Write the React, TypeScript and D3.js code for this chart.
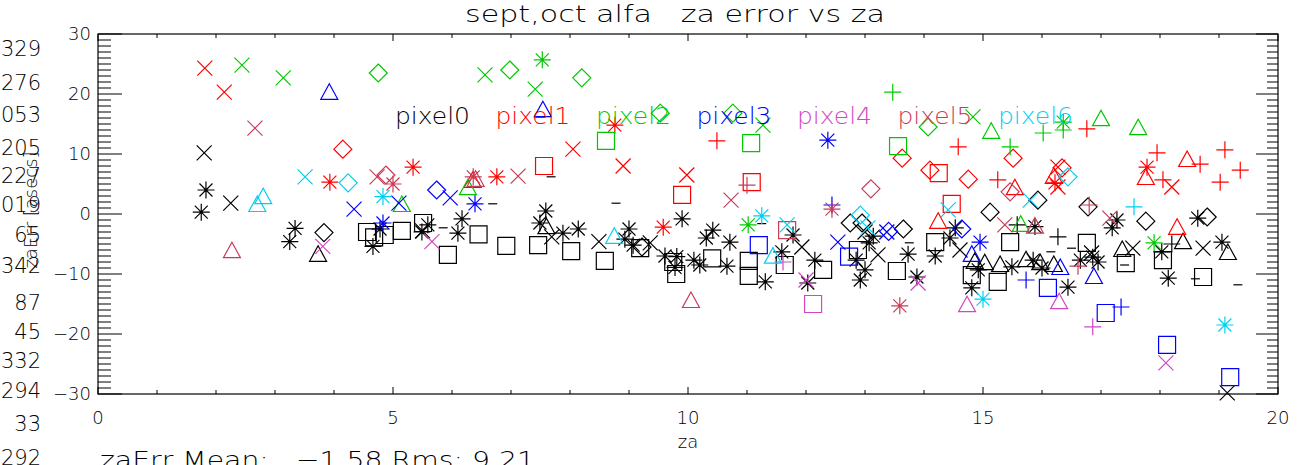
import React from "react";
import * as d3 from "d3";

// ---- data: [za, zaErr, symbol]  (x=X, p=plus, a=asterisk, d=diamond, t=triangle, s=square, m=dash)
type Pt = [number, number, string];

const seriesNames = ["pixel0", "pixel1", "pixel2", "pixel3", "pixel4", "pixel5", "pixel6"];
const seriesColors = ["#000000", "#ff0000", "#00c800", "#0000ff", "#d048c0", "#c83c58", "#00d0f0"];

const pixel0: Pt[] = [
  [1.83, 4.0, "a"], [1.75, 0.3, "a"], [3.34, -2.4, "a"], [3.25, -4.6, "a"], [4.66, -5.4, "a"], [4.78, -2.5, "a"],
  [5.59, -1.8, "a"], [5.49, -3.0, "a"], [6.17, -0.8, "a"], [6.1, -3.2, "a"], [7.59, 0.5, "a"], [7.49, -1.5, "a"], [7.88, -3.2, "a"],
  [8.14, -2.5, "a"], [9.0, -2.5, "a"], [8.93, -4.2, "a"], [9.07, -5.2, "a"], [9.9, -0.8, "a"], [9.61, -7.0, "a"],
  [9.81, -7.1, "a"], [9.78, -8.9, "a"], [10.1, -7.7, "a"], [10.2, -8.5, "a"], [10.31, -4.0, "a"], [10.42, -2.7, "a"],
  [10.66, -8.7, "a"], [10.71, -4.7, "a"], [11.31, -11.3, "a"], [11.59, -6.3, "a"], [11.78, -3.5, "a"], [12.15, -7.7, "a"],
  [12.03, -11.5, "a"], [12.85, -7.7, "a"], [13.0, -9.3, "a"], [12.92, -11.0, "a"], [13.07, -4.8, "a"], [13.14, -3.7, "a"],
  [13.73, -6.7, "a"], [14.19, -7.0, "a"], [13.88, -10.5, "a"], [14.53, -2.3, "a"], [14.44, -4.0, "a"], [14.92, -9.3, "a"],
  [14.81, -12.3, "a"], [15.49, -8.8, "a"], [15.88, -2.1, "a"], [15.85, -7.7, "a"], [16.0, -9.0, "a"], [16.44, -12.2, "a"],
  [16.65, -7.7, "a"], [16.86, -7.2, "a"], [16.95, -8.0, "a"], [17.27, -1.0, "a"], [17.19, -2.3, "a"], [18.03, -6.3, "a"],
  [18.14, -10.7, "a"], [18.64, -0.7, "a"], [19.05, -4.7, "a"],
  [1.8, 10.2, "x"], [2.25, 1.8, "x"], [7.69, -3.8, "x"], [8.49, -4.6, "x"], [9.36, -4.8, "x"],
  [11.93, -5.5, "x"], [13.22, -6.8, "x"], [14.61, -6.0, "x"], [16.84, -6.5, "x"], [17.54, -5.7, "x"], [18.73, -5.7, "x"],
  [19.14, -29.8, "x"], [5.5, -2.8, "x"], [13.0, -3.0, "x"],
  [3.83, -3.1, "d"], [9.22, -5.5, "d"], [12.75, -1.5, "d"], [12.95, -1.5, "d"], [13.65, -2.5, "d"], [15.12, 0.3, "d"],
  [15.93, 2.3, "d"], [16.78, 1.2, "d"], [17.76, -1.2, "d"], [18.8, -0.5, "d"],
  [3.73, -6.8, "t"], [14.86, -8.0, "t"], [15.03, -8.2, "t"], [15.29, -8.5, "t"], [15.73, -7.7, "t"], [15.97, -8.2, "t"],
  [16.2, -8.5, "t"], [17.36, -6.0, "t"], [18.39, -4.7, "t"], [19.15, -6.5, "t"], [7.6, -2.2, "t"],
  [4.56, -3.0, "s"], [4.68, -3.9, "s"], [4.86, -3.5, "s"], [5.15, -2.8, "s"], [5.51, -1.5, "s"], [5.93, -6.8, "s"],
  [6.45, -3.4, "s"], [6.92, -5.3, "s"], [7.46, -5.2, "s"], [8.02, -6.2, "s"], [8.59, -7.8, "s"], [9.19, -5.7, "s"],
  [9.75, -8.0, "s"], [9.8, -10.0, "s"], [10.41, -7.4, "s"], [11.03, -7.8, "s"], [11.03, -10.3, "s"], [11.64, -8.5, "s"],
  [12.29, -9.3, "s"], [12.88, -6.0, "s"], [13.54, -9.5, "s"], [14.19, -4.7, "s"], [14.81, -10.2, "s"], [15.25, -11.3, "s"],
  [15.46, -4.7, "s"], [16.76, -4.8, "s"], [17.42, -8.2, "s"], [18.05, -7.7, "s"], [18.73, -10.5, "s"],
  [15.58, -1.8, "p"], [16.27, -3.8, "p"], [18.2, -5.0, "p"],
  [7.68, 6.2, "m"], [6.69, 1.7, "m"], [8.78, 1.8, "m"], [5.85, -2.3, "m"], [13.75, -4.8, "m"], [16.5, -5.7, "m"],
  [17.4, -8.5, "m"], [18.6, -10.8, "m"], [19.32, -11.8, "m"], [16.15, -6.3, "m"], [11.25, -1.6, "m"],
];

const pixel1: Pt[] = [
  [1.81, 24.3, "x"], [2.14, 20.3, "x"], [8.05, 10.8, "x"], [8.9, 8.0, "x"], [9.98, 6.5, "x"], [16.27, 7.8, "x"],
  [16.27, 4.5, "x"], [18.2, 4.5, "x"],
  [5.34, 7.8, "a"], [3.93, 5.3, "a"], [6.76, 6.2, "a"], [8.76, 14.8, "a"], [9.58, -2.2, "a"], [16.22, 5.2, "a"], [17.78, 7.8, "a"],
  [4.15, 10.8, "d"], [13.63, 9.3, "d"], [14.1, 7.3, "d"], [14.75, 5.8, "d"], [15.51, 9.3, "d"], [16.34, 7.7, "d"],
  [7.56, 8.0, "s"], [9.9, 3.2, "s"], [11.08, 5.3, "s"], [14.25, 6.8, "s"], [14.47, 1.7, "s"],
  [10.49, 12.2, "p"], [14.58, 11.2, "p"], [15.25, 5.7, "p"], [16.76, 14.2, "p"], [17.95, 10.2, "p"], [18.05, 5.7, "p"],
  [18.68, 8.3, "p"], [19.1, 10.7, "p"], [19.36, 7.3, "p"], [19.02, 5.3, "p"],
  [6.35, 5.5, "t"], [15.54, 4.3, "t"], [16.2, 6.2, "t"], [17.76, 6.0, "t"], [18.46, 9.0, "t"], [14.24, -1.3, "t"], [18.29, -2.3, "t"],
];

const pixel2: Pt[] = [
  [2.44, 24.8, "x"], [3.14, 22.7, "x"], [6.56, 23.2, "x"], [7.41, 20.8, "x"], [11.27, 14.8, "x"], [14.83, 16.2, "x"],
  [4.75, 23.5, "d"], [6.98, 24.0, "d"], [8.2, 22.7, "d"], [9.53, 16.8, "d"], [10.76, 16.8, "d"], [14.07, 14.5, "d"],
  [7.53, 25.7, "a"], [11.02, -1.8, "a"], [16.36, 15.3, "a"], [17.9, -4.8, "a"],
  [8.61, 12.2, "s"], [11.07, 11.8, "s"], [13.56, 11.3, "s"],
  [13.47, 20.3, "p"], [15.46, 11.2, "p"], [16.02, 13.5, "p"], [16.36, 14.0, "p"],
  [5.15, 1.5, "t"], [6.27, 4.3, "t"], [15.14, 13.7, "t"], [17.0, 15.8, "t"], [17.63, 14.3, "t"], [15.64, -1.8, "t"],
];

const pixel3: Pt[] = [
  [3.92, 20.2, "t"], [7.54, 17.3, "t"], [14.81, -6.8, "t"], [16.31, -9.0, "t"], [16.88, -10.5, "t"],
  [4.34, 0.8, "x"], [5.1, 1.8, "x"], [5.97, 2.7, "x"], [12.54, -4.7, "x"], [13.37, -3.0, "x"],
  [5.74, 4.0, "d"], [14.64, -2.5, "d"], [13.4, -2.9, "d"],
  [6.39, 1.7, "a"], [4.83, -1.5, "a"], [12.37, 12.3, "a"], [14.95, -4.7, "a"],
  [12.44, 1.5, "p"], [15.73, -11.0, "p"], [17.34, -15.5, "p"],
  [11.2, -5.2, "s"], [12.73, -7.1, "s"], [16.1, -12.3, "s"], [17.08, -16.5, "s"], [18.12, -21.8, "s"], [19.19, -27.2, "s"],
];

const pixel4: Pt[] = [
  [3.81, -5.4, "x"], [5.66, -4.6, "x"], [12.0, -11.0, "x"], [13.9, -11.5, "x"], [18.1, -24.8, "x"],
  [12.12, -15.0, "s"],
  [11.61, -8.0, "p"], [16.86, -18.8, "p"],
  [14.73, -15.2, "t"], [16.29, -14.7, "t"],
];

const pixel5: Pt[] = [
  [2.66, 14.3, "x"], [4.73, 6.2, "x"], [7.12, 6.3, "x"], [10.73, 2.3, "x"], [15.37, -1.8, "x"], [17.15, -0.7, "x"],
  [4.88, 6.5, "d"], [13.1, 4.2, "d"], [15.46, 3.7, "d"],
  [5.0, 5.0, "a"], [6.36, 6.2, "a"], [12.44, 0.8, "a"], [13.59, -15.3, "a"],
  [2.27, -6.2, "t"], [6.4, 5.7, "t"], [10.05, -14.5, "t"], [15.88, -2.1, "t"],
  [11.68, -2.7, "s"],
  [11.0, 4.8, "p"], [16.8, 1.5, "p"], [16.61, -8.7, "p"],
];

const pixel6: Pt[] = [
  [3.51, 6.2, "x"], [11.68, -1.8, "x"], [14.41, 0.7, "x"], [15.8, 2.3, "x"], [13.05, -2.3, "x"],
  [4.24, 5.2, "d"], [12.92, -0.2, "d"], [16.44, 6.2, "d"],
  [2.8, 2.8, "t"], [2.7, 1.5, "t"], [8.75, -3.8, "t"], [11.44, -7.1, "t"],
  [4.83, 2.9, "a"], [11.25, -0.3, "a"], [15.0, -14.2, "a"], [19.1, -18.5, "a"],
  [17.56, 1.2, "p"],
];

const allSeries: Pt[][] = [pixel0, pixel1, pixel2, pixel3, pixel4, pixel5, pixel6];

const xTickLabels = ["0", "5", "10", "15", "20"];
const yTickLabels = ["\u221230", "\u221220", "\u221210", "0", "10", "20", "30"];
const leftGhostNumbers = ["329", "276", "053", "205", "227", "019", "65", "342", "87", "45", "332", "294", "33", "292"];
const leftGhostY = [48, 82, 114, 147, 175, 204, 234, 265, 302, 331, 360, 390, 423, 457];

const W = 1307;
const H = 465;
const FONT = "'DejaVu Sans', 'Liberation Sans', sans-serif";
const FW = 200;

function symbolPath(s: string, cx: number, cy: number): string {
  switch (s) {
    case "x":
      return `M${cx - 7.5},${cy - 7.5}L${cx + 7.5},${cy + 7.5}M${cx - 7.5},${cy + 7.5}L${cx + 7.5},${cy - 7.5}`;
    case "p":
      return `M${cx - 8.5},${cy}H${cx + 8.5}M${cx},${cy - 8.5}V${cy + 8.5}`;
    case "a":
      return `M${cx - 8.5},${cy}H${cx + 8.5}M${cx},${cy - 8.5}V${cy + 8.5}M${cx - 6.5},${cy - 6.5}L${cx + 6.5},${cy + 6.5}M${cx - 6.5},${cy + 6.5}L${cx + 6.5},${cy - 6.5}`;
    case "d":
      return `M${cx},${cy - 9}L${cx + 9},${cy}L${cx},${cy + 9}L${cx - 9},${cy}Z`;
    case "t":
      return `M${cx},${cy - 9}L${cx + 8.5},${cy + 6.5}L${cx - 8.5},${cy + 6.5}Z`;
    case "s":
      return `M${cx - 8.5},${cy - 8.5}H${cx + 8.5}V${cy + 8.5}H${cx - 8.5}Z`;
    case "m":
      return `M${cx - 4.5},${cy}H${cx + 4.5}`;
    default:
      return "";
  }
}

export default function App() {
  const x = d3.scaleLinear().domain([0, 20]).range([98, 1278]);
  const y = d3.scaleLinear().domain([-30, 30]).range([394, 34]);
  const [x0, x1] = x.range();
  const [yb, yt] = y.range();

  const xMinor = d3.range(0, 21, 1);
  const xMajor = x.ticks(4);
  const yMinor = d3.range(-30, 31, 1);
  const yMajor = y.ticks(6);

  return (
    <svg
      width={W}
      height={H}
      style={{ position: "absolute", left: 0, top: 0, background: "#fff" }}
      fontFamily={FONT}
      fontWeight={FW}
    >
      <rect x={0} y={0} width={W} height={H} fill="#fff" />

      {/* ghost numbers at left edge */}
      {leftGhostNumbers.map((t, i) => (
        <text key={"g" + i} x={41} y={leftGhostY[i] + 8} fontSize={21} textAnchor="end" fill="#000">
          {t}
        </text>
      ))}
      <text transform={`translate(37,210) rotate(-90)`} fontSize={18} textAnchor="middle" fill="#000">
        zaErr [asecs]
      </text>

      {/* title */}
      <text
        x={675}
        y={22}
        fontSize={23}
        textAnchor="middle"
        fill="#000"
        textLength={420}
        lengthAdjust="spacingAndGlyphs"
        style={{ whiteSpace: "pre" }}
      >
        {"sept,oct alfa   za error vs za"}
      </text>

      {/* frame */}
      <rect x={x0} y={yt} width={x1 - x0} height={yb - yt} fill="none" stroke="#000" strokeWidth={1.2} />

      {/* x ticks */}
      {xMinor.map((v) => {
        const len = v % 5 === 0 ? 7 : 4;
        return (
          <g key={"xt" + v} stroke="#000" strokeWidth={1}>
            <line x1={x(v)} x2={x(v)} y1={yb} y2={yb - len} />
            <line x1={x(v)} x2={x(v)} y1={yt} y2={yt + len} />
          </g>
        );
      })}
      {/* y ticks */}
      {yMinor.map((v) => {
        const major = v % 10 === 0;
        return (
          <g key={"yt" + v} stroke="#000" strokeWidth={1}>
            <line x1={x0} x2={x0 + (major ? 24 : 13)} y1={y(v)} y2={y(v)} />
            <line x1={x1} x2={x1 - (major ? 22 : 11)} y1={y(v)} y2={y(v)} />
          </g>
        );
      })}

      {/* x tick labels */}
      {xMajor.map((v, i) => (
        <text key={"xl" + v} x={x(v)} y={424} fontSize={18} textAnchor="middle" fill="#000">
          {xTickLabels[i]}
        </text>
      ))}
      {/* y tick labels */}
      {yMajor.map((v, i) => (
        <text key={"yl" + v} x={91} y={y(v) + 6} fontSize={18} textAnchor="end" fill="#000">
          {yTickLabels[i]}
        </text>
      ))}

      {/* axis title */}
      <text x={688} y={448} fontSize={18} textAnchor="middle" fill="#000">
        za
      </text>

      {/* stats text */}
      <text
        x={100}
        y={468}
        fontSize={23}
        fill="#000"
        textLength={435}
        lengthAdjust="spacingAndGlyphs"
        style={{ whiteSpace: "pre" }}
      >
        {"zaErr Mean:   \u22121.58 Rms: 9.21"}
      </text>

      {/* points */}
      {allSeries.map((pts, si) => (
        <g key={"s" + si} stroke={seriesColors[si]} strokeWidth={1.2} fill="none">
          {pts.map((p, i) => (
            <path key={i} d={symbolPath(p[2], x(p[0]), y(p[1]))} />
          ))}
        </g>
      ))}

      {/* legend labels */}
      {seriesNames.map((n, i) => (
        <text
          key={"lg" + i}
          x={395 + 100.5 * i}
          y={124}
          fontSize={23}
          fill={seriesColors[i]}
          textLength={75}
          lengthAdjust="spacingAndGlyphs"
        >
          {n}
        </text>
      ))}
    </svg>
  );
}
